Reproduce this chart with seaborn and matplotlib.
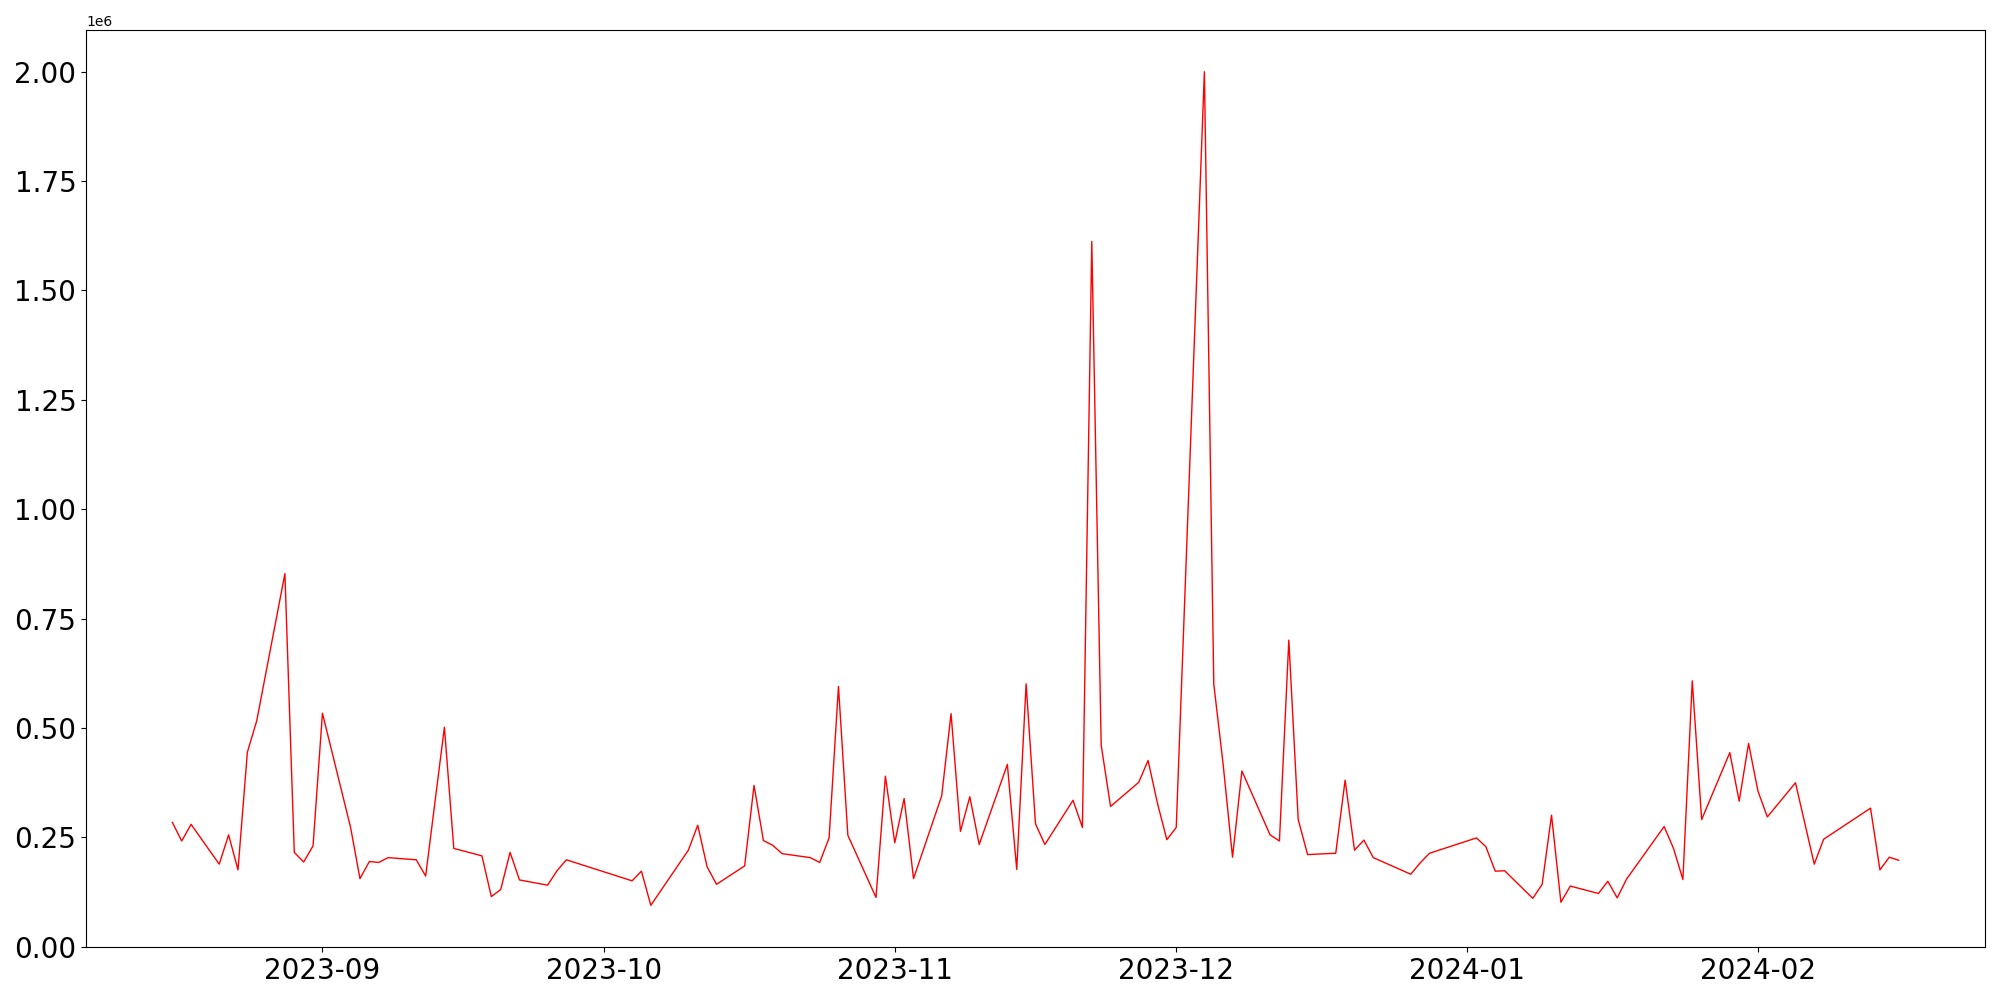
import numpy as np
import matplotlib
matplotlib.use('Agg')
import matplotlib.pyplot as plt
import pandas as pd
import seaborn as sns

# daily values (weekdays, some days missing)
dates = ['2023-08-16', '2023-08-17', '2023-08-18', '2023-08-21', '2023-08-22',
         '2023-08-23', '2023-08-24', '2023-08-25', '2023-08-28', '2023-08-29',
         '2023-08-30', '2023-08-31', '2023-09-01', '2023-09-04', '2023-09-05',
         '2023-09-06', '2023-09-07', '2023-09-08', '2023-09-11', '2023-09-12',
         '2023-09-14', '2023-09-15', '2023-09-18', '2023-09-19', '2023-09-20',
         '2023-09-21', '2023-09-22', '2023-09-25', '2023-09-26', '2023-09-27',
         '2023-10-04', '2023-10-05', '2023-10-06', '2023-10-10', '2023-10-11',
         '2023-10-12', '2023-10-13', '2023-10-16', '2023-10-17', '2023-10-18',
         '2023-10-19', '2023-10-20', '2023-10-23', '2023-10-24', '2023-10-25',
         '2023-10-26', '2023-10-27', '2023-10-30', '2023-10-31', '2023-11-01',
         '2023-11-02', '2023-11-03', '2023-11-06', '2023-11-07', '2023-11-08',
         '2023-11-09', '2023-11-10', '2023-11-13', '2023-11-14', '2023-11-15',
         '2023-11-16', '2023-11-17', '2023-11-20', '2023-11-21', '2023-11-22',
         '2023-11-23', '2023-11-24', '2023-11-27', '2023-11-28', '2023-11-29',
         '2023-11-30', '2023-12-01', '2023-12-04', '2023-12-05', '2023-12-06',
         '2023-12-07', '2023-12-08', '2023-12-11', '2023-12-12', '2023-12-13',
         '2023-12-14', '2023-12-15', '2023-12-18', '2023-12-19', '2023-12-20',
         '2023-12-21', '2023-12-22', '2023-12-26', '2023-12-27', '2023-12-28',
         '2024-01-02', '2024-01-03', '2024-01-04', '2024-01-05', '2024-01-08',
         '2024-01-09', '2024-01-10', '2024-01-11', '2024-01-12', '2024-01-15',
         '2024-01-16', '2024-01-17', '2024-01-18', '2024-01-22', '2024-01-23',
         '2024-01-24', '2024-01-25', '2024-01-26', '2024-01-29', '2024-01-30',
         '2024-01-31', '2024-02-01', '2024-02-02', '2024-02-05', '2024-02-07',
         '2024-02-08', '2024-02-13', '2024-02-14', '2024-02-15', '2024-02-16']

values = [284600, 242000, 280000, 189000, 256000,
          176000, 445000, 517000, 853000, 216000,
          194000, 231000, 534000, 273000, 156000,
          195000, 193000, 204000, 199000, 162000,
          502000, 225000, 208000, 115000, 131000,
          216000, 153000, 141000, 174000, 199000,
          151000, 173000, 95000, 221000, 278000,
          183000, 143000, 185000, 369000, 243000,
          232000, 213000, 204000, 193000, 249000,
          595000, 255000, 113000, 390000, 238000,
          339000, 156000, 345000, 533000, 264000,
          343000, 234000, 417000, 177000, 601000,
          281000, 234000, 335000, 273000, 1612000,
          461000, 321000, 376000, 426000, 328000,
          245000, 273000, 2000000, 601000, 417000,
          205000, 402000, 256000, 242000, 701000,
          291000, 211000, 214000, 381000, 221000,
          244000, 204000, 166000, 192000, 214000,
          249000, 229000, 173000, 174000, 111000,
          143000, 301000, 102000, 139000, 122000,
          150000, 112000, 155000, 275000, 225000,
          154000, 608000, 291000, 444000, 333000,
          465000, 356000, 297000, 375000, 189000,
          246000, 317000, 176000, 205000, 198000]

df = pd.DataFrame({'date': pd.to_datetime(dates), 'value': values})

fig, ax = plt.subplots(figsize=(20, 10), dpi=100)

sns.lineplot(x='date', y='value', data=df, color='red', linewidth=1.0, ax=ax)

ax.set_xlabel('')
ax.set_ylabel('')
ax.tick_params(axis='both', labelsize=20)

fig.subplots_adjust(left=0.043, right=0.9925, bottom=0.053, top=0.97)
fig.savefig('out.png')
